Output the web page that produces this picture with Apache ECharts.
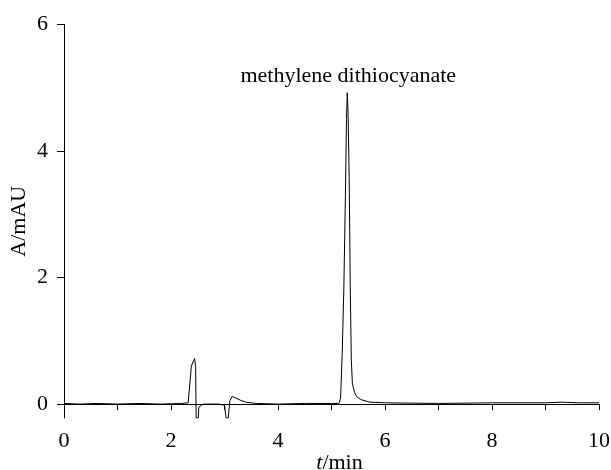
<!DOCTYPE html>
<html><head><meta charset="utf-8">
<script src="https://cdn.jsdelivr.net/npm/echarts@6/dist/echarts.min.js"></script>
<style>html,body{margin:0;padding:0;background:#fff}#c{width:611px;height:470px}</style>
</head><body><div id="c"></div>
<script>
// retention time (min)
var times = [0.0,0.3,0.6,1.0,1.4,1.8,2.2,2.32,2.35,2.38,2.41,2.44,2.46,2.47,2.49,2.51,2.52,2.55,2.6,2.7,2.9,3.0,3.03,3.07,3.1,3.14,3.2,3.3,3.4,3.6,4.0,4.5,5.0,5.14,5.17,5.20,5.23,5.26,5.28,5.295,5.31,5.33,5.35,5.37,5.39,5.43,5.48,5.55,5.72,6.0,7.0,8.0,9.0,9.3,9.6,10.0];
// absorbance (mAU)
var absorb = [0.01,0.0,0.01,0.0,0.01,0.0,0.01,0.02,0.3,0.6,0.62,0.72,0.6,-0.22,-0.22,-0.22,-0.05,-0.02,0.0,0.0,0.0,-0.02,-0.22,-0.22,0.05,0.12,0.1,0.06,0.03,0.01,0.0,0.01,0.01,0.01,0.1,0.8,1.8,3.3,4.5,4.92,4.6,3.6,1.9,0.7,0.33,0.18,0.11,0.07,0.03,0.02,0.01,0.02,0.02,0.03,0.02,0.02];
var yTicks = [0,2,4,6];
var xTickLabels = [0,2,4,6,8,10];
var peakLabel = 'methylene dithiocyanate';

var pts = times.map(function(t,i){return [t, absorb[i]];});
var FONT = '"Liberation Serif","Times New Roman",serif';
var chart = echarts.init(document.getElementById('c'), null, {renderer:'canvas'});
chart.setOption({
  animation:false,
  backgroundColor:'#fff',
  grid:{left:64,right:12,top:24.5,bottom:52,containLabel:false,outerBoundsMode:'none'},
  xAxis:{
    type:'value',min:0,max:10,interval:1,
    axisLine:{lineStyle:{color:'#000',width:1}},
    axisTick:{inside:false,length:6,lineStyle:{color:'#000'}},
    splitLine:{show:false},
    axisLabel:{color:'#000',fontFamily:FONT,fontSize:22,margin:12,
      formatter:function(v){return xTickLabels.indexOf(v)>=0? String(v):'';}},
    name:'{i|t}{n|/min}',nameLocation:'middle',nameGap:34,nameMoveOverlap:false,
    nameTextStyle:{padding:[0,0,0,16],rich:{i:{fontFamily:FONT,fontSize:22,fontStyle:'italic',color:'#000'},n:{fontFamily:FONT,fontSize:22,color:'#000'}}}
  },
  yAxis:{
    type:'value',min:-0.22,max:6,
    axisLine:{show:true,lineStyle:{color:'#000',width:1}},
    axisTick:{show:true,length:7,customValues:yTicks,lineStyle:{color:'#000'}},
    splitLine:{show:false},
    axisLabel:{color:'#000',fontFamily:FONT,fontSize:22,margin:16,customValues:yTicks},
    name:'A/mAU',nameLocation:'middle',nameGap:34,nameRotate:90,nameMoveOverlap:false,
    nameTextStyle:{fontFamily:FONT,fontSize:22,color:'#000'}
  },
  series:[{
    type:'line',data:pts,showSymbol:false,smooth:false,
    lineStyle:{color:'#000',width:1},
    markPoint:{symbol:'circle',symbolSize:0,silent:true,
      data:[{coord:[5.295,4.92],label:{show:true,position:'top',distance:6,offset:[1,0],formatter:peakLabel,
        color:'#000',fontFamily:FONT,fontSize:22}}]}
  }]
});
</script></body></html>
